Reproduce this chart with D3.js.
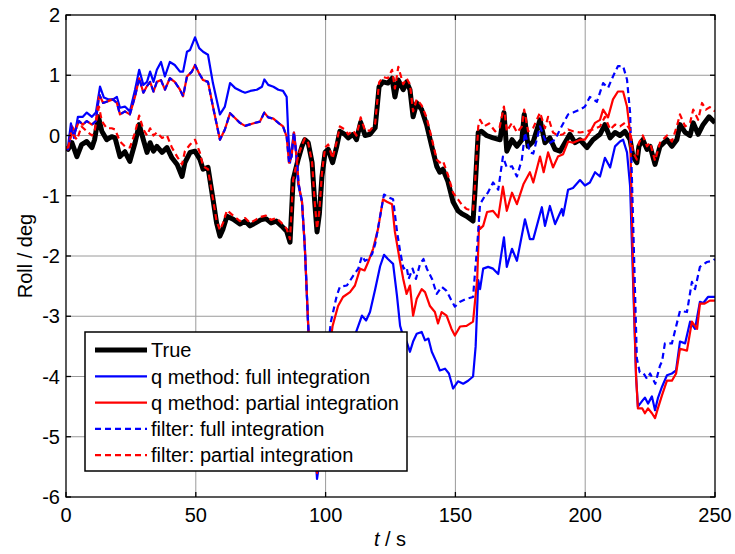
<!DOCTYPE html>
<html>
<head>
<meta charset="utf-8">
<script src="https://cdn.jsdelivr.net/npm/d3@7"></script>
<style>
  html, body { margin: 0; padding: 0; background: #fff; }
  svg { display: block; font-family: Arial, "Liberation Sans", sans-serif; }
</style>
</head>
<body>
<svg id="chart" width="735" height="554"></svg>
<script>
// ---- data ([t, value]) ----
const trueRoll = [[0,-0.2],[0.8,-0.23],[2.3,-0.12],[4.2,-0.35],[6,-0.15],[8,-0.1],[10,-0.2],[11,-0.07],[12.5,0.31],[13.8,0.07],[15.7,-0.07],[17.6,-0.02],[18.9,-0.04],[20.8,-0.35],[22.7,-0.27],[24.6,-0.43],[26.6,-0.12],[28.2,0.18],[29.8,-0.07],[31.2,-0.28],[32.4,-0.12],[33.7,-0.26],[35,-0.18],[37,-0.28],[38.9,-0.2],[40.8,-0.37],[42.8,-0.48],[44.7,-0.68],[45.8,-0.45],[47.8,-0.28],[49.7,-0.26],[51.6,-0.4],[52.8,-0.56],[54.7,-0.53],[56.6,-1.05],[58,-1.45],[59.3,-1.67],[60.5,-1.55],[62,-1.34],[64.4,-1.39],[67,-1.47],[69,-1.42],[70.9,-1.5],[73,-1.45],[75,-1.4],[77,-1.38],[79,-1.45],[81,-1.42],[83,-1.5],[85,-1.59],[86.3,-1.77],[87.5,-0.73],[89.4,-0.4],[90.9,-0.18],[92,-0.07],[93.3,-0.12],[94.8,-0.45],[95.8,-1.1],[96.7,-1.6],[97.6,-1.3],[98.6,-0.68],[99.8,-0.28],[101,-0.23],[102.7,-0.45],[104.3,-0.18],[105.5,0.07],[107.4,0.02],[108.7,-0.04],[110.6,0.02],[111.9,-0.07],[113.5,0.22],[115.2,0.0],[117.1,0.02],[119.1,0.13],[120.6,0.81],[122.1,0.89],[124,0.87],[125.6,0.95],[126.7,0.64],[128,0.92],[129.9,0.76],[131.2,0.89],[132.5,0.76],[133.7,0.31],[135.1,0.54],[137,0.43],[138.9,0.18],[140.9,-0.18],[142.8,-0.51],[144,-0.61],[145.2,-0.56],[147.1,-0.76],[149.1,-1.1],[151,-1.25],[152.5,-1.3],[154.3,-1.34],[156.8,-1.42],[157.5,-0.95],[158.8,0.05],[160,0.07],[162,0.0],[164.5,-0.04],[167.2,-0.07],[168.7,0.38],[169.8,-0.26],[171.8,-0.07],[173.7,-0.18],[175.6,-0.07],[176.5,0.35],[178,-0.18],[180,-0.1],[182.6,0.26],[184.5,-0.12],[186.4,-0.04],[188.4,-0.23],[190.3,-0.26],[192.2,-0.12],[194.1,0.02],[196.1,-0.12],[198,-0.07],[200.7,-0.2],[203,-0.07],[205.7,0.02],[207.6,0.18],[209.6,-0.04],[211.5,0.05],[213.4,0.0],[215.3,0.07],[217.3,-0.07],[218.4,-0.35],[219.9,-0.45],[220.7,-0.18],[222.2,-0.07],[223.8,-0.23],[225,-0.18],[226.9,-0.48],[228.8,-0.18],[231.5,-0.07],[233.4,-0.18],[235.3,-0.07],[236.5,0.18],[238.5,0.05],[240.4,0.0],[241.6,0.21],[243.5,0.02],[245.4,0.18],[247.7,0.31],[250,0.21]];

const qFull = [[0,-0.2],[0.8,-0.18],[1.9,0.2],[3.1,-0.04],[4.6,0.31],[6.5,0.31],[8,0.38],[10,0.31],[11.5,0.38],[13.1,0.81],[14.6,0.63],[16.2,0.6],[18.1,0.6],[19.6,0.64],[20.8,0.46],[22.7,0.48],[24.6,0.4],[26.6,0.76],[28.2,1.09],[29.8,0.84],[31.2,0.89],[32.4,1.06],[33.7,0.89],[35,1.09],[36.6,1.22],[38.1,0.98],[40,1.22],[41.9,1.17],[43.9,1.06],[45.1,1.06],[46.6,1.39],[47.8,1.42],[49.7,1.63],[51.3,1.45],[52.8,1.39],[54.7,1.34],[56.6,0.87],[59.3,0.35],[61.2,0.48],[63.2,0.87],[65.1,0.79],[67.8,0.73],[69,0.71],[71,0.74],[73.5,0.76],[75.5,0.81],[76.4,0.93],[77.9,0.84],[79.9,0.81],[81.8,0.76],[83.6,0.74],[85,0.64],[85.6,0.05],[86.3,-0.45],[86.9,-0.23],[87.8,0.05],[88.6,-0.23],[89.4,-0.8],[90.9,-1.1],[92,-1.85],[93.3,-3.16],[95,-4.6],[96.7,-5.7],[98,-5.3],[100,-4.7],[103,-4.1],[106,-3.8],[109,-3.55],[111,-3.35],[112.6,-3.16],[114,-2.99],[115.6,-3.07],[117.1,-2.93],[119.1,-2.55],[121,-2.17],[122.5,-1.98],[124,-2.05],[126,-2.13],[127.5,-2.66],[128.7,-3.16],[130,-3.35],[131.2,-3.42],[132.5,-3.59],[133.7,-3.42],[135.1,-3.29],[137,-3.26],[138.3,-3.4],[139.6,-3.37],[140.9,-3.59],[142.8,-3.77],[144,-3.9],[146,-3.87],[147.5,-3.95],[149.1,-4.2],[151,-4.08],[153,-4.12],[154.9,-4.07],[156.8,-4.0],[157.8,-3.5],[158.8,-2.4],[159.5,-2.55],[160.7,-2.21],[162.6,-2.18],[164.5,-2.21],[166.5,-2.3],[168.7,-1.69],[169.8,-2.18],[171.8,-1.88],[173.7,-2.08],[176.8,-1.39],[178.7,-1.72],[180,-1.72],[183.3,-1.19],[184.5,-1.5],[186.4,-1.17],[188.4,-1.47],[191,-1.22],[191.5,-1.33],[193.4,-0.9],[195.3,-0.87],[198,-0.74],[199.9,-0.83],[201.8,-0.78],[203.8,-0.61],[205.7,-0.68],[207.6,-0.37],[209.6,-0.53],[211.5,-0.18],[213.4,-0.1],[214.6,-0.07],[216.1,-0.28],[217.3,-0.84],[218.5,-2.5],[219.6,-4.0],[220.3,-4.5],[221.9,-4.41],[223,-4.35],[224.2,-4.45],[225.7,-4.33],[226.9,-4.56],[228,-4.36],[229.6,-4.17],[231.5,-3.98],[233.4,-3.95],[235,-3.9],[236.5,-3.42],[238.5,-3.45],[240.4,-3.09],[242.3,-3.21],[244.2,-2.76],[245.5,-2.78],[247.3,-2.68],[249.2,-2.68],[250,-2.68]];

const qPartial = [[0,-0.2],[0.8,-0.23],[2.3,0.15],[3.5,0.07],[5,0.24],[6.5,0.18],[8,0.24],[10,0.18],[11.5,0.24],[12.8,0.68],[14.3,0.54],[16.2,0.57],[18.1,0.6],[19.6,0.54],[20.8,0.35],[22.7,0.4],[24.6,0.35],[26.6,0.65],[28.2,0.95],[29.8,0.71],[31.2,0.82],[32.4,0.89],[33.7,0.73],[35,0.89],[36.6,0.92],[38.1,0.76],[40,0.95],[41.9,0.89],[43.9,0.76],[45.1,0.65],[46.6,0.98],[48.5,1.06],[49.7,1.17],[51.3,1.03],[52.8,0.92],[54.7,0.89],[56.6,0.48],[59.3,-0.07],[61.2,0.1],[63.2,0.37],[65.1,0.29],[67,0.21],[69,0.16],[72,0.2],[74.7,0.23],[76.4,0.38],[77.9,0.3],[79.9,0.28],[81.8,0.21],[83.6,0.15],[85,-0.02],[85.9,-0.45],[86.9,-0.35],[87.8,0.05],[88.9,-0.4],[89.6,-0.8],[90.9,-1.1],[92,-1.85],[93.3,-3.16],[95,-4.6],[96.7,-5.6],[98,-5.0],[100,-4.1],[101.5,-3.55],[102.7,-3.16],[104.8,-2.83],[106.7,-2.68],[109.4,-2.6],[111.3,-2.49],[113.3,-2.21],[115,-2.24],[116.4,-2.1],[118.3,-1.88],[120.2,-1.55],[122.1,-1.06],[123.6,-1.1],[125.6,-1.14],[126.7,-1.6],[128.7,-2.1],[129.9,-2.38],[131.2,-2.63],[132.5,-2.49],[133.7,-2.99],[135.1,-2.71],[137,-2.55],[138.3,-2.6],[140.2,-2.83],[142.1,-2.93],[143.3,-3.12],[144.7,-2.93],[146.6,-2.99],[148.5,-3.21],[149.8,-3.32],[151.8,-3.17],[154.3,-3.16],[156.8,-3.09],[158.4,-2.38],[159.1,-1.5],[159.5,-1.55],[160.7,-1.5],[162.2,-1.27],[164.5,-1.25],[166.5,-1.36],[168.3,-0.85],[169.8,-1.25],[171.8,-0.95],[173.7,-1.14],[176.2,-0.81],[178.7,-0.61],[180,-0.78],[182.6,-0.35],[184,-0.61],[185.7,-0.28],[187.6,-0.53],[189.5,-0.35],[191.5,-0.31],[193.4,-0.1],[195.3,-0.12],[198,-0.07],[199.9,-0.07],[201.8,0.05],[203.8,0.21],[205.7,0.26],[206.9,0.43],[208.8,0.3],[210.7,0.6],[212.6,0.73],[214.6,0.73],[216.1,0.48],[217.3,0.05],[218.5,-2.3],[219.6,-4.0],[220.3,-4.53],[222,-4.53],[223,-4.61],[224.2,-4.53],[225.7,-4.61],[226.9,-4.69],[228,-4.53],[229.6,-4.31],[231.5,-4.07],[233.4,-4.07],[235,-3.95],[236.5,-3.54],[239.2,-3.57],[241.1,-3.09],[243.1,-3.21],[244.2,-2.79],[246,-2.79],[248,-2.74],[250,-2.74]];

const filterFull = [[0,-0.2],[0.8,-0.23],[2.3,0.15],[3.5,0.07],[5,0.24],[6.5,0.18],[8,0.24],[10,0.18],[11.5,0.24],[12.8,0.68],[14.3,0.54],[16.2,0.57],[18.1,0.6],[19.6,0.54],[20.8,0.35],[22.7,0.4],[24.6,0.35],[26.6,0.65],[28.2,0.95],[29.8,0.71],[31.2,0.82],[32.4,0.89],[33.7,0.73],[35,0.89],[36.6,0.92],[38.1,0.76],[40,0.95],[41.9,0.89],[43.9,0.76],[45.1,0.65],[46.6,0.98],[48.5,1.06],[49.7,1.17],[51.3,1.03],[52.8,0.92],[54.7,0.89],[56.6,0.48],[59.3,-0.07],[61.2,0.1],[63.2,0.37],[65.1,0.29],[67,0.21],[69,0.16],[72,0.2],[74.7,0.23],[76.4,0.38],[77.9,0.3],[79.9,0.28],[81.8,0.21],[83.6,0.15],[85,-0.02],[85.9,-0.45],[86.9,-0.35],[87.8,0.05],[88.9,-0.4],[89.6,-0.8],[90.9,-1.1],[92,-1.85],[93.3,-3.16],[95,-4.6],[96.7,-5.6],[98,-4.9],[100,-3.9],[102,-3.1],[104.3,-2.66],[105.5,-2.51],[108.2,-2.49],[110.6,-2.33],[112.6,-2.21],[114,-2.0],[115.2,-2.08],[116.5,-2.05],[117.9,-1.97],[119.1,-1.8],[121,-1.34],[122.5,-0.98],[124,-1.02],[126,-1.06],[127.5,-1.59],[128.7,-1.92],[130,-2.21],[131.2,-2.18],[132,-2.38],[133.5,-2.21],[134.8,-2.38],[136.4,-2.13],[137.7,-2.05],[139,-2.21],[141,-2.38],[142.8,-2.63],[144.7,-2.51],[146.6,-2.58],[148.5,-2.74],[149.8,-2.84],[151.8,-2.76],[154.3,-2.71],[156.8,-2.68],[158.4,-1.83],[159.5,-1.14],[161.4,-1.0],[162.5,-0.95],[164.5,-0.78],[166.5,-0.9],[168.3,-0.35],[169.8,-0.53],[171.8,-0.51],[173.7,-0.68],[175.6,-0.4],[176.8,0.05],[178.7,-0.28],[180,-0.3],[182.6,0.15],[184.5,-0.07],[186.4,-0.12],[188.4,-0.07],[190.3,0.1],[193.4,0.35],[195.3,0.38],[198,0.43],[199.9,0.48],[201.8,0.64],[204.5,0.56],[206.9,0.87],[208.8,0.79],[210.7,0.98],[212.6,1.15],[214.6,1.15],[216.1,0.93],[217.3,0.38],[218.5,-1.5],[219.9,-3.7],[221,-3.93],[222.5,-3.95],[223.8,-4.04],[225,-3.95],[227,-4.12],[228.8,-3.82],[229.6,-3.75],[230.7,-3.45],[233.4,-3.45],[236.5,-2.91],[239.2,-2.93],[241.1,-2.43],[242.3,-2.55],[244.2,-2.18],[246.9,-2.1],[249.2,-2.08],[250,-2.05]];

const filterPartial = [[0,-0.2],[0.8,-0.2],[2.3,0.05],[4.2,-0.07],[6,0.15],[8,0.07],[10,0.0],[11,0.07],[12.7,0.48],[13.8,0.24],[15.7,0.12],[17.6,0.12],[18.9,0.1],[20.8,-0.1],[22.7,-0.18],[24.6,-0.2],[26.6,0.05],[28.2,0.33],[29.8,0.1],[31.2,0.0],[32.4,0.12],[33.7,0.0],[35,0.05],[37,-0.04],[38.9,0.0],[40.8,-0.2],[42.8,-0.35],[44.7,-0.48],[45.8,-0.26],[47.8,-0.15],[49.7,-0.07],[51.6,-0.29],[52.8,-0.51],[54.7,-0.56],[56.6,-1.05],[58,-1.42],[59.3,-1.57],[60.5,-1.45],[62,-1.24],[64.4,-1.33],[67,-1.42],[69,-1.37],[70.9,-1.45],[73,-1.4],[75,-1.35],[77,-1.33],[79,-1.4],[81,-1.37],[83,-1.45],[85,-1.55],[86.3,-1.72],[87.5,-0.73],[89.4,-0.35],[90.9,-0.15],[92,-0.05],[93.3,-0.12],[94.8,-0.45],[95.8,-1.1],[96.7,-1.55],[97.6,-1.25],[98.6,-0.62],[99.8,-0.2],[101,-0.15],[102.7,-0.38],[104.3,-0.1],[105.5,0.15],[107.4,0.1],[108.7,0.02],[110.6,0.08],[111.9,0.0],[113.5,0.3],[115.2,0.08],[117.1,0.08],[119.1,0.2],[120.6,0.88],[122.1,0.97],[124,0.95],[125.6,1.09],[126.7,0.78],[128,1.14],[129.9,0.85],[131.2,0.95],[132.5,0.85],[133.7,0.4],[135.1,0.6],[137,0.5],[138.9,0.3],[140.9,-0.05],[142.8,-0.4],[144,-0.45],[145.2,-0.42],[147.1,-0.65],[149.1,-0.95],[151,-1.06],[152.5,-1.15],[154.3,-1.22],[156.8,-1.25],[157.5,-0.85],[158.8,0.15],[159.5,0.26],[161,0.15],[163,0.2],[165.3,0.07],[167,0.13],[168.7,0.48],[169.8,0.07],[171.8,0.21],[173.7,0.05],[175.6,0.15],[176.5,0.43],[178,0.07],[180,0.13],[182.6,0.38],[184.5,0.12],[185.7,0.31],[187.6,0.05],[189.5,0.0],[191.5,0.02],[193.4,0.1],[195.3,0.07],[198,0.05],[200.7,0.07],[203,0.1],[205.7,0.15],[207.6,0.31],[209.6,0.1],[211.5,0.18],[213.4,0.15],[215.3,0.21],[217.3,0.1],[218.4,-0.28],[219.9,-0.4],[220.7,-0.12],[222.2,0.0],[223.8,-0.18],[225,-0.12],[226.9,-0.42],[228.8,-0.12],[231.5,0.0],[233.4,-0.1],[235.3,0.15],[236.5,0.35],[238.5,0.15],[240.4,0.21],[241.6,0.43],[243.5,0.26],[245,0.54],[246.5,0.43],[248,0.47],[250,0.4]];

const xTicks = [0, 50, 100, 150, 200, 250];
const yTicks = [2, 1, 0, -1, -2, -3, -4, -5, -6];
const seriesNames = ["True", "q method: full integration", "q method: partial integration", "filter: full integration", "filter: partial integration"];

// ---- layout ----
const svg = d3.select("#chart");
const L = 66, R = 715, T = 15, B = 497;
const x = d3.scaleLinear().domain([0, 250]).range([L, R]);
const y = d3.scaleLinear().domain([-6, 2]).range([B, T]);
const FS = "20px";

// grid
const grid = svg.append("g");
grid.selectAll(".gx").data(xTicks.slice(1, -1)).join("line")
  .attr("x1", d => x(d)).attr("x2", d => x(d)).attr("y1", T).attr("y2", B)
  .attr("stroke", "#9a9a9a").attr("stroke-width", 1);
grid.selectAll(".gy").data(yTicks.slice(1, -1)).join("line")
  .attr("x1", L).attr("x2", R).attr("y1", d => y(d)).attr("y2", d => y(d))
  .attr("stroke", "#9a9a9a").attr("stroke-width", 1);

// lines
svg.append("defs").append("clipPath").attr("id", "clip")
  .append("rect").attr("x", L).attr("y", T).attr("width", R - L).attr("height", B - T);
const line = d3.line().x(d => x(d[0])).y(d => y(d[1]));
const series = [
  { data: trueRoll, color: "#000", width: 5, dash: null },
  { data: qFull, color: "#0000ff", width: 2.2, dash: null },
  { data: qPartial, color: "#ff0000", width: 2.2, dash: null },
  { data: filterFull, color: "#0000ff", width: 2.2, dash: "6,4" },
  { data: filterPartial, color: "#ff0000", width: 2.2, dash: "6,4" }
];
const lg = svg.append("g").attr("clip-path", "url(#clip)");
series.forEach(s => {
  lg.append("path").datum(s.data).attr("d", line)
    .attr("fill", "none").attr("stroke", s.color).attr("stroke-width", s.width)
    .attr("stroke-linejoin", "round")
    .attr("stroke-dasharray", s.dash);
});

// axes box + inward ticks
const ax = svg.append("g").attr("stroke", "#000").attr("stroke-width", 1.3);
ax.append("rect").attr("x", L).attr("y", T).attr("width", R - L).attr("height", B - T).attr("fill", "none");
const tl = 5;
xTicks.forEach(t => {
  ax.append("line").attr("x1", x(t)).attr("x2", x(t)).attr("y1", B).attr("y2", B - tl);
  ax.append("line").attr("x1", x(t)).attr("x2", x(t)).attr("y1", T).attr("y2", T + tl);
});
yTicks.forEach(t => {
  ax.append("line").attr("x1", L).attr("x2", L + tl).attr("y1", y(t)).attr("y2", y(t));
  ax.append("line").attr("x1", R).attr("x2", R - tl).attr("y1", y(t)).attr("y2", y(t));
});

// tick labels
svg.append("g").selectAll("text").data(xTicks).join("text")
  .attr("x", d => x(d)).attr("y", 522).attr("text-anchor", "middle")
  .attr("font-size", FS).attr("fill", "#000").text(d => d);
svg.append("g").selectAll("text").data(yTicks).join("text")
  .attr("x", 60).attr("y", d => y(d)).attr("dy", "0.36em").attr("text-anchor", "end")
  .attr("font-size", FS).attr("fill", "#000").text(d => d);

// axis titles
svg.append("text").attr("transform", "translate(32,256) rotate(-90)")
  .attr("text-anchor", "middle").attr("font-size", FS).text("Roll / deg");
const xt = svg.append("text").attr("x", 390).attr("y", 546).attr("text-anchor", "middle").attr("font-size", FS);
xt.append("tspan").attr("font-style", "italic").text("t");
xt.append("tspan").text(" / s");

// legend
const leg = svg.append("g");
leg.append("rect").attr("x", 85).attr("y", 332).attr("width", 322).attr("height", 139)
  .attr("fill", "#fff").attr("stroke", "#000").attr("stroke-width", 1.5);
series.forEach((s, i) => {
  const yy = 350 + i * 26.3;
  leg.append("line").attr("x1", 95).attr("x2", 147).attr("y1", yy).attr("y2", yy)
    .attr("stroke", s.color).attr("stroke-width", s.width).attr("stroke-dasharray", s.dash);
  leg.append("text").attr("x", 151).attr("y", yy).attr("dy", "0.36em")
    .attr("font-size", FS).attr("fill", "#000").text(seriesNames[i]);
});
</script>
</body>
</html>
